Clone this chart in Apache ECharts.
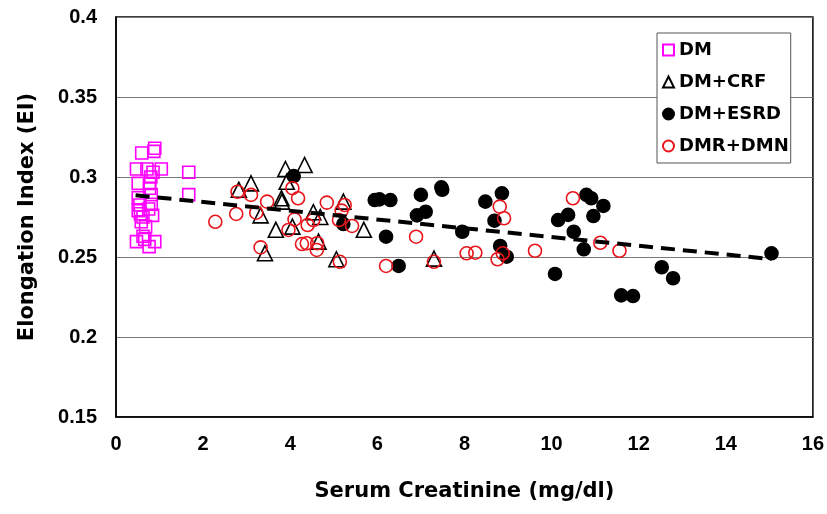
<!DOCTYPE html>
<html>
<head>
<meta charset="utf-8">
<script src="https://cdn.jsdelivr.net/npm/echarts@6/dist/echarts.min.js"></script>
<style>
  html, body { margin: 0; padding: 0; background: #fff; }
  #chart { width: 827px; height: 514px; }
</style>
</head>
<body>
<div id="chart"></div>
<script>
// [serum creatinine, elongation index]
var dmData = [
  [0.59, 0.315], [0.89, 0.318], [0.87, 0.316], [0.47, 0.305], [0.71, 0.305],
  [1.04, 0.305], [0.85, 0.303], [1.67, 0.303], [0.51, 0.296], [0.77, 0.296],
  [0.80, 0.300], [0.77, 0.293], [0.81, 0.289], [1.67, 0.289], [0.51, 0.287],
  [0.55, 0.2825], [0.81, 0.283], [0.51, 0.279], [0.56, 0.277], [0.62, 0.275],
  [0.84, 0.276], [0.68, 0.269], [0.62, 0.263], [0.47, 0.2596], [0.89, 0.2596],
  [0.76, 0.2565], [0.66, 0.261], [0.58, 0.272], [0.75, 0.280]
];
var crfData = [
  [2.82, 0.292], [3.10, 0.296], [3.89, 0.305], [4.33, 0.3075], [3.92, 0.297],
  [3.80, 0.2867], [3.81, 0.2846], [3.32, 0.276], [3.67, 0.267], [4.05, 0.269],
  [4.69, 0.275], [5.22, 0.2846], [5.69, 0.267], [3.42, 0.2523], [4.65, 0.2596],
  [5.06, 0.2486], [4.53, 0.278], [7.30, 0.249]
];
var esrdData = [
  [4.08, 0.3006], [5.94, 0.2856], [5.22, 0.2706], [6.05, 0.286], [6.30, 0.2856],
  [7.00, 0.2888], [7.47, 0.2935], [7.49, 0.292], [6.91, 0.276], [7.11, 0.2783],
  [6.20, 0.2627], [6.49, 0.2444], [7.95, 0.2658], [8.48, 0.2846], [8.86, 0.2898],
  [8.69, 0.2727], [8.82, 0.2569], [8.97, 0.2502], [10.80, 0.2888], [10.91, 0.2867],
  [11.19, 0.2819], [10.96, 0.2756], [10.15, 0.2731], [10.38, 0.2763], [10.51, 0.2658],
  [10.74, 0.2548], [10.08, 0.2394], [12.53, 0.2436], [12.79, 0.2367], [11.60, 0.226],
  [11.87, 0.2256], [15.05, 0.2523]
];
var dmnData = [
  [2.28, 0.272], [2.79, 0.2908], [3.10, 0.2888], [2.76, 0.2769], [3.22, 0.2777],
  [3.47, 0.2846], [3.32, 0.256], [4.05, 0.293], [4.18, 0.2867], [4.10, 0.2735],
  [3.96, 0.2669], [4.27, 0.2581], [4.38, 0.2586], [4.40, 0.270], [4.53, 0.2731],
  [4.61, 0.2544], [4.62, 0.2586], [4.84, 0.284], [5.25, 0.2825], [5.18, 0.279],
  [5.12, 0.2731], [5.42, 0.2694], [5.14, 0.247], [6.89, 0.2627], [6.20, 0.2444],
  [7.30, 0.247], [8.05, 0.2523], [8.25, 0.2527], [8.76, 0.2486], [8.88, 0.2523],
  [8.81, 0.2815], [8.91, 0.2742], [10.49, 0.2867], [9.62, 0.2539], [11.12, 0.2589],
  [11.56, 0.2539]
];
var trendData = [[0.45, 0.2886], [15.05, 0.2487]];
var xTicks = [0, 2, 4, 6, 8, 10, 12, 14, 16];
var yTicks = ['0.15', '0.2', '0.25', '0.3', '0.35', '0.4'];

var chart = echarts.init(document.getElementById('chart'));
var tickFont = 'Liberation Sans, Arial, sans-serif';
var titleFont = 'DejaVu Sans, sans-serif';

function scatter (name, data, symbol, size, fill, stroke) {
  return {
    name: name,
    type: 'scatter',
    data: data,
    symbol: symbol,
    symbolSize: size,
    itemStyle: { color: fill, borderColor: stroke, borderWidth: 1.6, opacity: 1 },
    z: 3
  };
}

chart.setOption({
  animation: false,
  grid: {
    left: 116, right: 9, top: 17, bottom: 97,
    show: true, borderColor: '#000', borderWidth: 1.5, backgroundColor: '#fff'
  },
  legend: {
    orient: 'vertical',
    left: 657, top: 33,
    padding: [8, 2, 8, 5],
    itemGap: 14,
    itemWidth: 11, itemHeight: 11,
    itemTextGap: 5,
    backgroundColor: '#fff',
    borderColor: '#555', borderWidth: 1,
    textStyle: { fontFamily: titleFont, fontWeight: 'bold', fontSize: 18, color: '#000' },
    data: ['DM', 'DM+CRF', 'DM+ESRD', 'DMR+DMN']
  },
  xAxis: {
    type: 'value',
    min: 0, max: 16, interval: 2,
    name: 'Serum Creatinine (mg/dl)',
    nameLocation: 'middle',
    nameGap: 64,
    nameTextStyle: { fontFamily: titleFont, fontWeight: 'bold', fontSize: 21, color: '#000' },
    axisLine: { lineStyle: { color: '#000', width: 1.5 } },
    axisTick: { show: false },
    axisLabel: {
      margin: 17, fontFamily: tickFont, fontWeight: 'bold', fontSize: 20, color: '#000',
      formatter: function (v) { return xTicks.indexOf(v) >= 0 ? String(v) : ''; }
    },
    splitLine: { show: false }
  },
  yAxis: {
    type: 'value',
    min: 0.15, max: 0.4, interval: 0.05,
    name: 'Elongation Index (EI)',
    nameLocation: 'middle',
    nameGap: 78,
    nameTextStyle: { fontFamily: titleFont, fontWeight: 'bold', fontSize: 21, color: '#000' },
    axisLine: { lineStyle: { color: '#000', width: 1.5 } },
    axisTick: { show: false },
    axisLabel: {
      margin: 19, fontFamily: tickFont, fontWeight: 'bold', fontSize: 20, color: '#000',
      formatter: function (v) {
        var s = String(Math.round(v * 100) / 100);
        return yTicks.indexOf(s) >= 0 ? s : '';
      }
    },
    splitLine: { show: true, lineStyle: { color: '#777', width: 1.2 } }
  },
  series: [
    scatter('DM', dmData, 'rect', 12, 'rgba(255,255,255,0)', '#ff00ff'),
    scatter('DM+CRF', crfData, 'triangle', 15, 'rgba(255,255,255,0)', '#000'),
    scatter('DM+ESRD', esrdData, 'circle', 13, '#000', '#000'),
    scatter('DMR+DMN', dmnData, 'circle', 13, 'rgba(255,255,255,0)', '#e8141a'),
    {
      name: 'trend',
      type: 'line',
      data: trendData,
      symbol: 'none',
      lineStyle: { color: '#000', width: 4, type: [14, 8] },
      z: 4,
      silent: true
    }
  ]
});
</script>
</body>
</html>
